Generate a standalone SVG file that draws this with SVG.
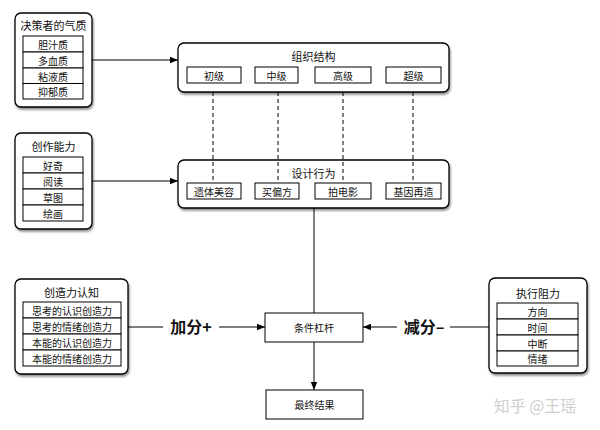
<svg xmlns="http://www.w3.org/2000/svg" width="600" height="430" viewBox="0 0 600 430">
<defs>
<filter id="sh" x="-10%" y="-10%" width="125%" height="130%">
<feDropShadow dx="1" dy="2" stdDeviation="1" flood-color="#000" flood-opacity="0.45"/>
</filter>
<marker id="ah" viewBox="0 0 10 10" refX="10" refY="5" markerWidth="8" markerHeight="8" markerUnits="userSpaceOnUse" orient="auto">
<path d="M0,1 L10,5 L0,9 Z" fill="#000"/>
</marker>
<style>
text{font-family:"Noto Sans CJK SC","Liberation Sans",sans-serif;fill:#111;text-anchor:middle;dominant-baseline:central}
.outer{fill:#fff;stroke:#000;stroke-width:1.3;filter:url(#sh)}
.cell{fill:#fff;stroke:#000;stroke-width:1}
.box{fill:#fff;stroke:#000;stroke-width:1}
.t{font-size:11px}
.c{font-size:10px}
.big{font-size:16px;font-weight:bold}
.ln{fill:none;stroke:#000;stroke-width:1}
.dash{fill:none;stroke:#000;stroke-width:1;stroke-dasharray:4,3}
.wm{font-size:16px;fill:#cfcfcf}
</style>
</defs>
<rect width="600" height="430" fill="#fff"/>

<g id="temperament">
<rect class="outer" x="15" y="13" width="77" height="94" rx="6"/>
<text class="t" x="53.5" y="25">决策者的气质</text>
<rect class="cell" x="23" y="36" width="60" height="16"/>
<rect class="cell" x="23" y="52" width="60" height="16"/>
<rect class="cell" x="23" y="68" width="60" height="15.5"/>
<rect class="cell" x="23" y="83.5" width="60" height="15.5"/>
<text class="c" x="53" y="44">胆汁质</text>
<text class="c" x="53" y="60">多血质</text>
<text class="c" x="53" y="76">粘液质</text>
<text class="c" x="53" y="91.5">抑郁质</text>
</g>

<g id="creativity">
<rect class="outer" x="15" y="133" width="77" height="96" rx="6"/>
<text class="t" x="53.5" y="146">创作能力</text>
<rect class="cell" x="23" y="157" width="60" height="16"/>
<rect class="cell" x="23" y="173" width="60" height="16"/>
<rect class="cell" x="23" y="189" width="60" height="16"/>
<rect class="cell" x="23" y="205" width="60" height="16"/>
<text class="c" x="53" y="165">好奇</text>
<text class="c" x="53" y="181">阅读</text>
<text class="c" x="53" y="197">草图</text>
<text class="c" x="53" y="213">绘画</text>
</g>

<g id="cognition">
<rect class="outer" x="15" y="279" width="113" height="95" rx="6"/>
<text class="t" x="71.5" y="292">创造力认知</text>
<rect class="cell" x="23" y="302" width="98" height="16"/>
<rect class="cell" x="23" y="318" width="98" height="16"/>
<rect class="cell" x="23" y="334" width="98" height="16"/>
<rect class="cell" x="23" y="350" width="98" height="16"/>
<text class="c" x="72" y="310">思考的认识创造力</text>
<text class="c" x="72" y="326">思考的情绪创造力</text>
<text class="c" x="72" y="342">本能的认识创造力</text>
<text class="c" x="72" y="358">本能的情绪创造力</text>
</g>

<g id="organization">
<rect class="outer" x="178" y="43" width="271" height="49" rx="6"/>
<text class="t" x="313.5" y="56">组织结构</text>
<rect class="cell" x="187" y="67" width="54" height="16"/>
<rect class="cell" x="255" y="67" width="43" height="16"/>
<rect class="cell" x="315" y="67" width="56" height="16"/>
<rect class="cell" x="386" y="67" width="55" height="16"/>
<text class="c" x="214" y="75">初级</text>
<text class="c" x="276.5" y="75">中级</text>
<text class="c" x="343" y="75">高级</text>
<text class="c" x="413.5" y="75">超级</text>
</g>

<g id="design">
<rect class="outer" x="178" y="160" width="271" height="48" rx="6"/>
<text class="t" x="313.5" y="173">设计行为</text>
<rect class="cell" x="187" y="183" width="54" height="16"/>
<rect class="cell" x="255" y="183" width="44" height="16"/>
<rect class="cell" x="315" y="183" width="56" height="16"/>
<rect class="cell" x="386" y="183" width="55" height="16"/>
<text class="c" x="214" y="191">遗体美容</text>
<text class="c" x="277" y="191">买偏方</text>
<text class="c" x="343" y="191">拍电影</text>
<text class="c" x="413.5" y="191">基因再造</text>
</g>

<g id="resistance">
<rect class="outer" x="489" y="278" width="98" height="95" rx="6"/>
<text class="t" x="538" y="293">执行阻力</text>
<rect class="cell" x="497" y="303" width="81" height="16"/>
<rect class="cell" x="497" y="319" width="81" height="16"/>
<rect class="cell" x="497" y="335" width="81" height="16"/>
<rect class="cell" x="497" y="351" width="81" height="15"/>
<text class="c" x="537.5" y="311">方向</text>
<text class="c" x="537.5" y="327">时间</text>
<text class="c" x="537.5" y="343">中断</text>
<text class="c" x="537.5" y="358.5">情绪</text>
</g>

<g id="lever">
<rect class="box" x="265" y="313" width="98" height="29"/>
<text class="c" x="314" y="327.5">条件杠杆</text>
</g>

<g id="result">
<rect class="box" x="266" y="390" width="97" height="29"/>
<text class="c" x="314.5" y="404.5">最终结果</text>
</g>

<g id="connectors">
<line class="ln" x1="92" y1="60" x2="178" y2="60" marker-end="url(#ah)"/>
<line class="ln" x1="92" y1="181" x2="178" y2="181" marker-end="url(#ah)"/>
<line class="dash" x1="213" y1="92" x2="213" y2="183"/>
<line class="dash" x1="278" y1="92" x2="278" y2="183"/>
<line class="dash" x1="343" y1="92" x2="343" y2="183"/>
<line class="dash" x1="413" y1="92" x2="413" y2="183"/>
<line class="ln" x1="314" y1="208" x2="314" y2="313"/>
<line class="ln" x1="128" y1="327" x2="163" y2="327"/>
<line class="ln" x1="219" y1="327" x2="265" y2="327" marker-end="url(#ah)"/>
<line class="ln" x1="489" y1="327" x2="450" y2="327"/>
<line class="ln" x1="397" y1="327" x2="363" y2="327" marker-end="url(#ah)"/>
<line class="ln" x1="314" y1="342" x2="314" y2="390" marker-end="url(#ah)"/>
<text class="big" x="191" y="326">加分+</text>
<text class="big" x="424" y="326">减分–</text>
</g>

<text class="wm" x="535" y="405">知乎 @王瑶</text>
</svg>
